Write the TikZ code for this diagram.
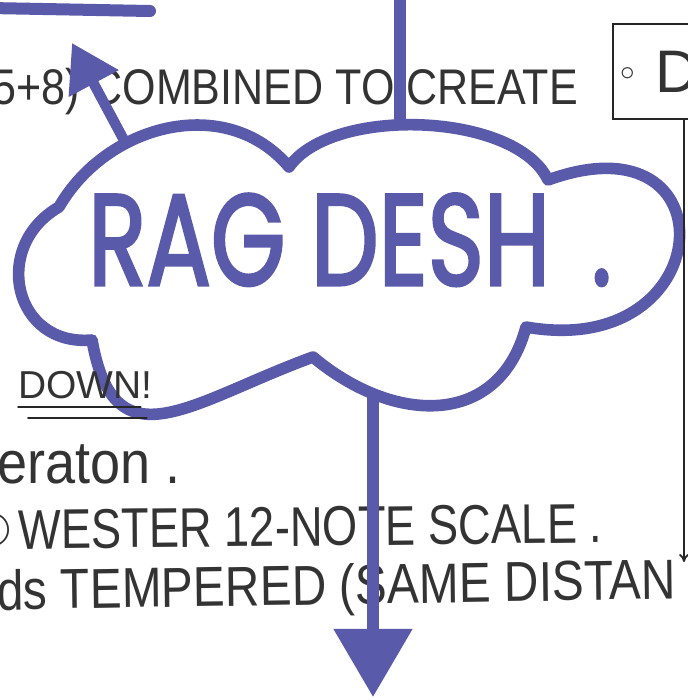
\documentclass[tikz,border=0pt]{standalone}
\usepackage{fontspec}
\setmainfont{Liberation Sans}
\newfontfamily\markerfont[FakeBold=2.5]{Poppins}
\newfontfamily\symbfont{DejaVu Sans}
\usetikzlibrary{positioning,arrows.meta}
\definecolor{inkblue}{RGB}{90,90,170}

\begin{document}
\begin{tikzpicture}[x=0.025cm, y=-0.025cm,
        hand/.style={inner sep=0pt, anchor=base west, text=black!80},
        pen/.style={draw=black!85, line width=1.3pt, line cap=round},
        ink/.style={draw=inkblue, line width=0.29cm, line cap=round, line join=round},
        inkarrow/.style={ink, -{Triangle[length=1.7cm, width=1.9cm]}},
        smallinkarrow/.style={ink, line width=0.26cm, -{Triangle[length=1.15cm, width=1.35cm]}},
        penarrow/.style={pen, -{To[length=0.2cm, width=0.25cm]}},
        infobox/.style={draw=black!85, line width=1.3pt, minimum height=2.375cm, text width=6cm, align=left, inner xsep=0.2cm, text=black!80, font=\fontsize{42.7}{46}\selectfont},
        marker/.style={inner sep=0pt, anchor=base west, text=inkblue, font=\markerfont\fontsize{92}{96}\selectfont},
      ]
      \useasboundingbox (0,0) rectangle (687,700);
      % cut-off heading underline
      \draw [ink, line width=0.3cm] (-10,8) -- (150,11);
      % central cloud
      \node [marker, xscale=0.74] (rag) at (88,285) {RAG DESH\hspace{1.4cm}.};
      \draw [ink] (59,207) to[out=60, in=130, looseness=1.06] (289,167)
        to[out=55, in=115, looseness=0.74] (548,180)
        to[out=20, in=-10, looseness=3.4] (526,327)
        to[out=-105, in=-40, looseness=1.25] (313,357)
        to[out=200, in=-80, looseness=1.5] (92,340)
        to[out=185, in=210, looseness=1.47] cycle;
      \coordinate (cloudtop) at (400,124);
      \coordinate (cloudnw) at (125,142);
      \coordinate (cloudfoot) at (373,397);
      \coordinate (feed) at (400,-20);
      \coordinate (uptip) at (72,43);
      \coordinate (downtip) at (373,697);
      % texts round the cloud
      \node [hand, xscale=0.86, font=\fontsize{35.6}{40}\selectfont] (combined) at (-8,104) {5+8) COMBINED TO CREATE};
      \node [infobox, anchor=north west] (info) at (612,23) {\raisebox{0.3cm}{\fontsize{20}{20}\selectfont$\circ$}\ D};
      \coordinate (infoend) at (684,562);
      \node [hand, font=\fontsize{27.7}{30}\selectfont] (down) at (18,398) {DOWN!};
      \node [hand, xscale=0.9, font=\fontsize{42.7}{46}\selectfont] (eraton) at (-3,483) {eraton .};
      \node [inner sep=0pt, text=black!80, font=\symbfont\fontsize{32}{34}\selectfont] (two) at (-7,530) {②};
      \node [hand, xscale=0.81, rotate=0.5, font=\fontsize{39.8}{44}\selectfont] (wester) at (18,549) {WESTER 12-NOTE SCALE .};
      \node [hand, xscale=0.85, rotate=0.8, font=\fontsize{40}{44}\selectfont] (tempered) at (-3,610) {ds TEMPERED (SAME DISTAN};
      \draw [pen] ([yshift=-0.22cm]down.base west) -- ([xshift=-0.3cm, yshift=-0.22cm]down.base east);
      \draw [pen] ([xshift=0.25cm, yshift=-0.5cm]down.base west) -- ([xshift=-0.15cm, yshift=-0.5cm]down.base east);
      % connectors
      \draw [ink] (feed) -- (cloudtop);
      \draw [smallinkarrow] (cloudnw) -- (uptip);
      \draw [inkarrow] (cloudfoot) -- (downtip);
      \draw [penarrow] ([xshift=1.8cm]info.south west) -- (infoend);
    \end{tikzpicture}
\end{document}
